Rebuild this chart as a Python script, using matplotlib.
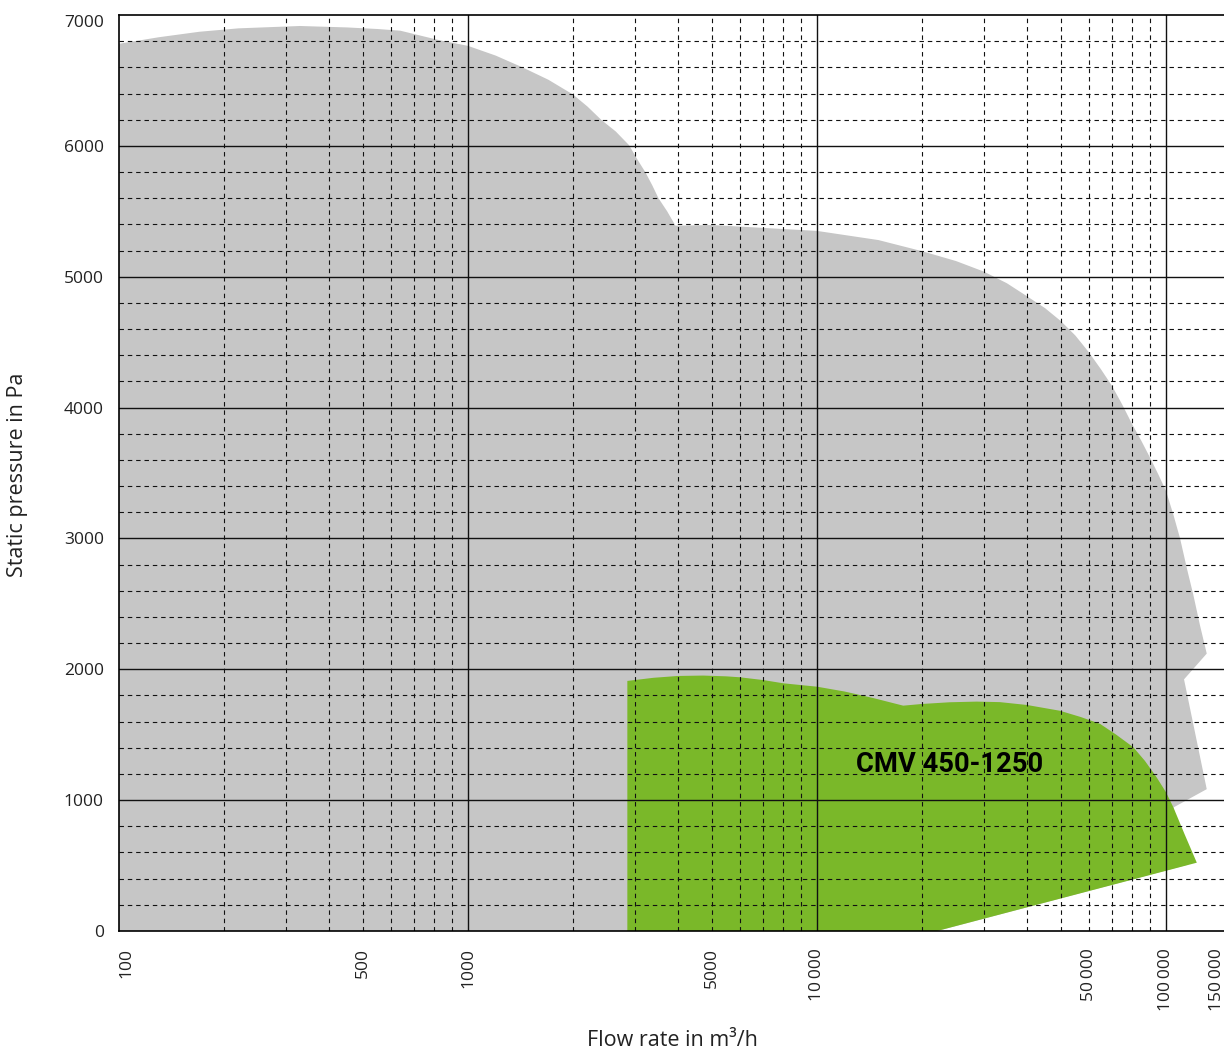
import matplotlib
matplotlib.use('Agg')
import matplotlib.pyplot as plt

plt.rcParams['font.family'] = ['Open Sans', 'DejaVu Sans']

# outer envelope (grey), flow rate m3/h vs static pressure Pa
grey_x = [100, 130, 170, 220, 330, 450, 550, 640, 826, 1000, 1200, 1432, 1700, 2000,
          2200, 2406, 2650, 2894, 3050, 3220, 3370, 3513, 3720, 3930,
          5000, 10000, 15000, 20000, 25000, 30000, 35000, 40000, 45000, 50000,
          55000, 60000, 65000, 70000, 75000, 80000, 85000, 90000, 95000,
          100000, 105000, 109700, 115000, 119700, 125000, 130800,
          112600, 130800, 105000, 115000, 22080, 100]
grey_y = [6780, 6830, 6872, 6898, 6916, 6905, 6893, 6880, 6808, 6764, 6690, 6600, 6505, 6392,
          6300, 6200, 6110, 6005, 5900, 5800, 5700, 5600, 5500, 5390,
          5395, 5350, 5280, 5195, 5120, 5040, 4950, 4850, 4760, 4660,
          4550, 4425, 4295, 4166, 4020, 3872, 3745, 3617, 3490,
          3362, 3180, 3000, 2760, 2570, 2340, 2120,
          1923, 1084, 944, 505, 0, 0]

# CMV 450-1250 range (green)
green_x = [2861, 2861, 3400, 4000, 4720, 5500, 6000, 7000, 8000, 10000, 12000, 14500,
           17660, 20000, 24000, 28680, 33420, 40000, 49660, 57000, 64700, 72000,
           80600, 87000, 94000, 100000, 105000, 113000, 122500, 22080]
green_y = [0, 1911, 1935, 1949, 1952, 1946, 1939, 1918, 1893, 1867, 1830, 1780,
           1722, 1735, 1748, 1753, 1749, 1727, 1683, 1635, 1583, 1500,
           1404, 1300, 1174, 1060, 944, 740, 522, 0]

xtick_pos = [105, 500, 1000, 5000, 10000, 60000, 100000, 140000]
xtick_labels = ['100', '500', '1000', '5000', '10\u2009000', '50\u2009000',
                '100\u2009000', '150\u2009000']
ytick_vals = [0, 1000, 2000, 3000, 4000, 5000, 6000, 7000]

fig = plt.figure(figsize=(12.24, 10.52), dpi=100)
ax = fig.add_axes([119 / 1224, 1 - 931 / 1052, 1108.5 / 1224, 916 / 1052])
ax.set_xscale('log')
ax.set_xlim(100, 150000)
ax.set_ylim(0, 7000)

ax.fill(grey_x, grey_y, color='#c6c6c6', lw=0, zorder=1)
ax.fill(green_x, green_y, color='#7ab829', lw=0, zorder=1.5)

# grid: solid majors, dashed minors on top of the areas
dash = (0, (4, 3.5))
for v in [1000, 10000, 100000]:
    ax.axvline(v, color='#111111', lw=1.0, zorder=3)
for dec in [100, 1000, 10000]:
    for m in range(2, 10):
        ax.axvline(dec * m, color='#111111', lw=0.8, ls=dash, zorder=3)
for v in range(1000, 7000, 1000):
    ax.axhline(v, color='#111111', lw=1.0, zorder=3)
for v in range(200, 7000, 200):
    if v % 1000:
        ax.axhline(v, color='#111111', lw=0.8, ls=dash, zorder=3)

ax.set_xticks(xtick_pos)
ax.set_xticklabels(xtick_labels, rotation=90, va='top')
ax.xaxis.set_minor_locator(matplotlib.ticker.NullLocator())
ax.set_yticks(ytick_vals)
ax.set_yticklabels([str(v) for v in ytick_vals])
ax.tick_params(axis='both', length=0, labelsize=12.5, colors='#222222')
ax.tick_params(axis='x', pad=12)
ax.tick_params(axis='y', pad=11)
ax.get_yticklabels()[-1].set_va('top')

for s in ['left', 'bottom', 'top']:
    ax.spines[s].set_linewidth(1.2)
    ax.spines[s].set_zorder(4)
ax.spines['right'].set_visible(False)

ax.text(24000, 1270, 'CMV 450-1250', fontsize=19.7, fontweight='bold',
        family=['Roboto', 'DejaVu Sans'], ha='center', va='center', zorder=5)

fig.text(672 / 1224, 1 - 1041 / 1052, 'Flow rate in m\u00b3/h', fontsize=15.5,
         ha='center', va='center', color='#222222')
fig.text(18 / 1224, 1 - 475 / 1052, 'Static pressure in Pa', fontsize=15.5,
         rotation=90, ha='center', va='center', color='#222222')

fig.savefig('out.png', dpi=100)
plt.close(fig)
